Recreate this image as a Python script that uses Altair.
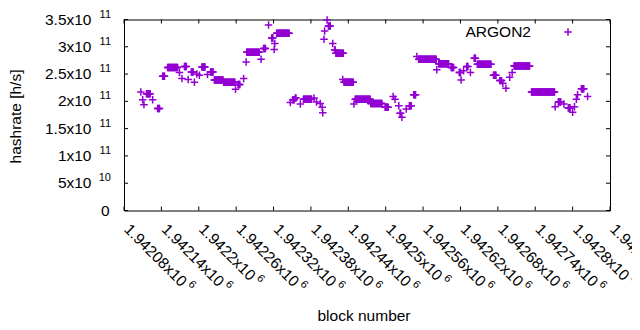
import altair as alt
import pandas as pd

# Runs of equal hashrate: first block, last block, hashrate (x 1e11 h/s)
run_first = [1942107, 1942110, 1942112, 1942116, 1942126, 1942134, 1942142, 1942150, 1942169, 1942173,
             1942177, 1942183, 1942188, 1942193, 1942197, 1942201, 1942205, 1942214, 1942219, 1942225,
             1942240, 1942259, 1942263, 1942272, 1942276, 1942277, 1942300, 1942304, 1942312, 1942317,
             1942321, 1942322, 1942325, 1942347, 1942351, 1942355, 1942363, 1942368, 1942385, 1942389,
             1942395, 1942398, 1942399, 1942401, 1942402, 1942406, 1942408, 1942415, 1942418, 1942420,
             1942431, 1942433, 1942449, 1942451, 1942476, 1942499, 1942512, 1942515, 1942521, 1942523,
             1942526, 1942533, 1942538, 1942545, 1942550, 1942553, 1942582, 1942585, 1942605, 1942618,
             1942621, 1942625, 1942630, 1942636, 1942642, 1942647, 1942673, 1942683, 1942688, 1942693,
             1942699, 1942703, 1942706, 1942734, 1942772, 1942777, 1942786, 1942793, 1942800, 1942803,
             1942806, 1942808, 1942814, 1942824]
run_last = [1942107, 1942110, 1942112, 1942122, 1942126, 1942137, 1942145, 1942166, 1942169, 1942173,
            1942180, 1942183, 1942191, 1942193, 1942197, 1942201, 1942210, 1942214, 1942223, 1942239,
            1942258, 1942259, 1942266, 1942272, 1942276, 1942297, 1942300, 1942307, 1942312, 1942319,
            1942321, 1942322, 1942345, 1942347, 1942353, 1942356, 1942363, 1942381, 1942385, 1942389,
            1942395, 1942398, 1942399, 1942401, 1942402, 1942406, 1942411, 1942415, 1942419, 1942432,
            1942431, 1942448, 1942449, 1942475, 1942494, 1942504, 1942512, 1942515, 1942521, 1942524,
            1942526, 1942533, 1942541, 1942548, 1942550, 1942581, 1942582, 1942601, 1942609, 1942620,
            1942621, 1942625, 1942632, 1942636, 1942644, 1942669, 1942677, 1942686, 1942688, 1942693,
            1942699, 1942703, 1942731, 1942771, 1942772, 1942781, 1942786, 1942796, 1942800, 1942803,
            1942806, 1942808, 1942818, 1942824]
run_rate = [2.17, 2.03, 1.94, 2.14, 2.03, 1.87, 2.46, 2.62, 2.53, 2.42,
            2.64, 2.40, 2.54, 2.35, 2.50, 2.48, 2.63, 2.49, 2.54, 2.39,
            2.35, 2.22, 2.31, 2.42, 2.72, 2.90, 2.77, 2.97, 3.40, 3.16,
            2.95, 3.06, 3.25, 1.98, 2.03, 2.06, 1.95, 2.04, 2.06, 1.99,
            1.96, 1.89, 1.79, 3.14, 3.29, 3.49, 3.38, 3.06, 2.94, 2.88,
            2.40, 2.35, 1.95, 2.04, 1.96, 1.89, 2.09, 2.04, 1.92, 1.78,
            1.71, 1.86, 1.92, 2.12, 2.82, 2.77, 2.58, 2.69, 2.62, 2.53,
            2.39, 2.56, 2.64, 2.53, 2.79, 2.68, 2.48, 2.38, 2.33, 2.24,
            2.44, 2.53, 2.65, 2.17, 1.90, 1.99, 1.95, 1.88, 1.80, 1.90,
            2.04, 2.12, 2.23, 2.09]

x_ticks = [1942080, 1942140, 1942200, 1942260, 1942320, 1942380, 1942440,
           1942500, 1942560, 1942620, 1942680, 1942740, 1942800, 1942860]
x_tick_mantissa = ["1.94208", "1.94214", "1.9422", "1.94226", "1.94232", "1.94238", "1.94244",
                   "1.9425", "1.94256", "1.94262", "1.94268", "1.94274", "1.9428", "1.94286"]
x_tick_exp = ["6"] * 14
y_ticks = [0, 5e10, 1e11, 1.5e11, 2e11, 2.5e11, 3e11, 3.5e11]
y_tick_base = ["0", "5x10", "1x10", "1.5x10", "2x10", "2.5x10", "3x10", "3.5x10"]
y_tick_exp = ["", "10", "11", "11", "11", "11", "11", "11"]
series_name = ["ARGON2"]
x_title = ["block number"]
y_title = ["hashrate [h/s]"]

rows = []
for f, l, r in zip(run_first, run_last, run_rate):
    for b in range(f, l + 1):
        rows.append({"block": b, "hashrate": r * 1e11})
pts = pd.DataFrame(rows)

ytk = pd.DataFrame({"v": y_ticks, "base": y_tick_base, "exp": y_tick_exp})
xtk = pd.DataFrame({"v": x_ticks, "mant": x_tick_mantissa, "exp": x_tick_exp})
xtk["base"] = xtk["mant"] + "x10"
xtk["n"] = xtk["mant"].str.len()

W, H = 486, 191
PURPLE = "#9400d3"
FONT = "Liberation Sans"
FS = 15.5
SFS = 11
PLUS = "M-1,0L1,0M0,-1L0,1"

xs = alt.Scale(domain=[1942080, 1942860], nice=False, zero=False)
ys = alt.Scale(domain=[0, 3.5e11], nice=False, zero=True)

points = alt.Chart(pts).mark_point(
    shape=PLUS, size=56, strokeWidth=1.5, color=PURPLE, filled=False, opacity=1
).encode(
    x=alt.X("block:Q", scale=xs, axis=None),
    y=alt.Y("hashrate:Q", scale=ys, axis=None),
)

yk = alt.Chart(ytk)
xk = alt.Chart(xtk)
Yv = alt.Y("v:Q", scale=ys, axis=None)
Xv = alt.X("v:Q", scale=xs, axis=None)

ytick_l = yk.mark_rule(color="black", strokeWidth=1).encode(y=Yv, x=alt.value(0), x2=alt.value(4))
ytick_r = yk.mark_rule(color="black", strokeWidth=1).encode(y=Yv, x=alt.value(W - 4), x2=alt.value(W))
xtick_b = xk.mark_rule(color="black", strokeWidth=1).encode(x=Xv, y=alt.value(H), y2=alt.value(H - 4))
xtick_t = xk.mark_rule(color="black", strokeWidth=1).encode(x=Xv, y=alt.value(0), y2=alt.value(4))

ylab_base = yk.transform_filter("datum.exp != ''").mark_text(
    align="right", baseline="middle", font=FONT, fontSize=FS, color="black"
).encode(y=Yv, x=alt.value(-32.5), text="base:N")
ylab_exp = yk.transform_filter("datum.exp != ''").mark_text(
    align="right", baseline="middle", font=FONT, fontSize=SFS, color="black", dy=-5
).encode(y=Yv, x=alt.value(-13), text="exp:N")
ylab_zero = yk.transform_filter("datum.exp == ''").mark_text(
    align="right", baseline="middle", font=FONT, fontSize=FS, color="black"
).encode(y=Yv, x=alt.value(-14.5), text="base:N")

xlab_base = xk.mark_text(
    angle=45, align="left", baseline="alphabetic", font=FONT, fontSize=FS, color="black",
    dx=13.5, dy=14.5
).encode(x=Xv, y=alt.value(H), text="base:N")
xlab_exp7 = xk.transform_filter("datum.n == 7").mark_text(
    angle=45, align="left", baseline="alphabetic", font=FONT, fontSize=SFS, color="black",
    dx=97.5, dy=7.5
).encode(x=Xv, y=alt.value(H), text="exp:N")
xlab_exp6 = xk.transform_filter("datum.n == 6").mark_text(
    angle=45, align="left", baseline="alphabetic", font=FONT, fontSize=SFS, color="black",
    dx=88.9, dy=7.5
).encode(x=Xv, y=alt.value(H), text="exp:N")

leg = pd.DataFrame({"t": series_name})
legend_text = alt.Chart(leg).mark_text(
    align="right", baseline="middle", font=FONT, fontSize=FS, color="black"
).encode(x=alt.value(407), y=alt.value(12.5), text="t:N")
legend_pt = alt.Chart(leg).mark_point(
    shape=PLUS, size=56, strokeWidth=1.5, color=PURPLE, filled=False, opacity=1
).encode(x=alt.value(444), y=alt.value(12.5))

xt = alt.Chart(pd.DataFrame({"t": x_title})).mark_text(
    align="center", baseline="middle", font=FONT, fontSize=FS, color="black"
).encode(x=alt.value(240), y=alt.value(296), text="t:N")
yt = alt.Chart(pd.DataFrame({"t": y_title})).mark_text(
    align="center", baseline="middle", font=FONT, fontSize=FS, color="black", angle=270
).encode(x=alt.value(-108), y=alt.value(97), text="t:N")

chart = alt.layer(
    points, ytick_l, ytick_r, xtick_b, xtick_t,
    ylab_base, ylab_exp, ylab_zero, xlab_base, xlab_exp7, xlab_exp6,
    legend_text, legend_pt, xt, yt,
).properties(
    width=W, height=H,
    padding={"left": 116, "top": 11.5, "right": 22, "bottom": 114},
    autosize=alt.AutoSizeParams(type="none"),
).configure_view(stroke="black", strokeWidth=1)

chart.save("out.html", embed_options={"renderer": "svg", "actions": False})
